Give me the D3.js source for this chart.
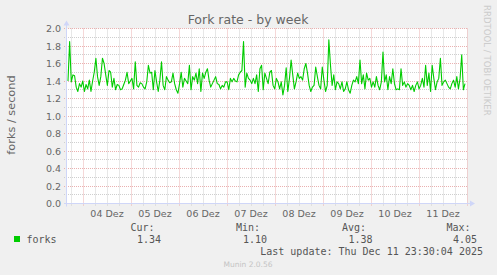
<!DOCTYPE html>
<html><head><meta charset="utf-8">
<script src="https://cdn.jsdelivr.net/npm/d3@7"></script>
<style>
html,body{margin:0;padding:0;background:#f0f0f0;}
svg{display:block;}
</style></head>
<body>
<svg id="chart" width="497" height="275"></svg>
<script>
// ---- data ----
const title = "Fork rate - by week";
const yLabel = "forks / second";
const dayLabels = ["04 Dez","05 Dez","06 Dez","07 Dez","08 Dez","09 Dez","10 Dez","11 Dez"];
const dayNumbers = [4,5,6,7,8,9,10,11];
const yTicks = [0.0,0.2,0.4,0.6,0.8,1.0,1.2,1.4,1.6,1.8,2.0];
const yMinorTicks = [0.1,0.3,0.5,0.7,0.9,1.1,1.3,1.5,1.7,1.9];
const seriesName = "forks";
const statLabels = ["Cur:","Min:","Avg:","Max:"];
const statValues = ["1.34","1.10","1.38","4.05"];
const lastUpdate = "Last update: Thu Dec 11 23:30:04 2025";
const footer = "Munin 2.0.56";
const sideText = "RRDTOOL / TOBI OETIKER";
const forks = [
1.40,1.85,1.39,1.47,1.46,1.33,1.28,1.37,1.33,1.40,1.28,
1.36,1.31,1.41,1.28,1.40,1.50,1.66,1.45,1.35,1.45,1.66,1.60,1.47,1.35,1.52,1.50,1.33,1.43,1.30,
1.36,1.35,1.30,1.31,1.36,1.41,1.50,1.37,1.40,1.43,1.31,1.62,1.35,1.33,1.38,1.37,1.33,1.31,1.39,
1.58,1.49,1.50,1.30,1.52,1.39,1.28,1.41,1.62,1.35,1.30,1.45,1.41,1.38,1.39,1.49,1.37,1.30,1.26,
1.37,1.50,1.33,1.43,1.40,1.37,1.58,1.30,1.45,1.41,1.49,1.37,1.54,1.28,1.49,1.43,1.50,1.54,1.41,
1.33,1.37,1.41,1.45,1.37,1.36,1.31,1.35,1.33,1.39,1.39,1.30,1.43,1.39,1.43,1.40,1.39,1.47,1.50,
1.52,1.85,1.33,1.49,1.43,1.41,1.37,1.43,1.37,1.47,1.28,1.54,1.58,1.30,1.49,1.43,1.37,1.50,1.52,
1.35,1.31,1.43,1.39,1.31,1.39,1.24,
1.35,1.55,1.28,1.43,1.64,1.47,1.31,1.39,1.49,1.43,1.45,1.41,1.54,1.60,1.49,1.35,1.28,1.33,1.35,
1.56,1.45,1.35,1.31,1.56,1.41,1.28,1.35,1.87,1.58,1.35,1.47,1.30,1.39,1.37,1.31,1.39,1.28,1.31,
1.39,1.30,1.26,1.35,1.41,1.39,1.45,1.37,1.64,1.37,1.47,1.31,1.49,1.41,1.43,1.33,1.39,1.33,1.45,
1.35,1.30,1.39,1.73,1.39,1.47,1.30,1.45,1.37,1.54,1.37,1.30,1.31,1.30,1.54,1.35,1.39,1.33,1.37,
1.35,1.30,1.35,1.28,1.35,1.39,1.31,1.35,1.43,1.33,1.58,1.35,1.49,1.28,1.58,1.43,1.30,1.39,1.43,
1.66,1.35,1.39,1.41,1.37,1.33,1.31,1.37,1.41,1.33,1.45,1.31,1.43,1.70,1.30,1.37
];
const viewStart = Date.UTC(2025,11,3,16,0);
const viewEnd = Date.UTC(2025,11,12,0,0);
const dataStart = Date.UTC(2025,11,3,16,30);
const dataEnd = Date.UTC(2025,11,11,23,0);

// ---- layout ----
const L = 67, R = 467, T = 28.5, B = 203.5;
const svg = d3.select("#chart");
const x = d3.scaleUtc().domain([viewStart, viewEnd]).range([L, R]);
const y = d3.scaleLinear().domain([0, 2]).range([B, T]);
const step = (dataEnd - dataStart) / (forks.length - 1);
const pts = forks.map((v,i)=>({t: new Date(dataStart + i*step), v}));

const FONT = "#666666", AXIS = "#CFD6F8";
const minorCol = "#cfcfcf", majorCol = "#eab0b0";

svg.append("rect").attr("width",497).attr("height",275).attr("fill","#f0f0f0");
svg.append("rect").attr("x",L).attr("y",T).attr("width",R-L).attr("height",B-T).attr("fill","#ffffff");

const g = svg.append("g");
// vertical minor grid every 6h, major at midnight
const sixH = d3.utcHour.every(6).range(new Date(viewStart), new Date(viewEnd+1));
sixH.forEach(d=>{
  const major = d.getUTCHours()===0;
  const xx = Math.round(x(d))+0.5;
  g.append("line").attr("x1",xx).attr("x2",xx).attr("y1",T).attr("y2",B+3)
   .attr("stroke", major?majorCol:minorCol).attr("stroke-width",1).attr("stroke-dasharray","1,1");
});
// horizontal grid
yMinorTicks.forEach(v=>{
  const yy = Math.round(y(v)-0.5)+0.5;
  g.append("line").attr("x1",L-3).attr("x2",R).attr("y1",yy).attr("y2",yy)
   .attr("stroke",minorCol).attr("stroke-dasharray","1,1");
});
yTicks.forEach(v=>{
  const yy = Math.round(y(v)-0.5)+0.5;
  g.append("line").attr("x1",L-3).attr("x2",R+1).attr("y1",yy).attr("y2",yy)
   .attr("stroke",majorCol).attr("stroke-dasharray","1,1");
});

// axes with arrows
svg.append("line").attr("x1",L-0.5).attr("x2",L-0.5).attr("y1",B+3).attr("y2",T-6).attr("stroke",AXIS);
svg.append("path").attr("d",`M${L-3.5},${T-3} L${L+2.5},${T-3} L${L-0.5},${T-8} Z`).attr("fill",AXIS);
svg.append("line").attr("x1",L-3).attr("x2",R+4).attr("y1",B).attr("y2",B).attr("stroke",AXIS);
svg.append("path").attr("d",`M${R+3},${B-3} L${R+3},${B+3} L${R+8},${B} Z`).attr("fill",AXIS);

// y tick labels
svg.append("g").selectAll("text").data(yTicks).join("text")
  .attr("x",61).attr("y",d=>y(d)+3.5).attr("text-anchor","end")
  .attr("font-family","DejaVu Sans").attr("font-size","9.5px").attr("fill",FONT)
  .text(d=>d.toFixed(1));

// x tick labels at noon
svg.append("g").selectAll("text").data(dayLabels).join("text")
  .attr("x",(d,i)=>x(new Date(Date.UTC(2025,11,dayNumbers[i],12))))
  .attr("y",216.5).attr("text-anchor","middle")
  .attr("font-family","DejaVu Sans").attr("font-size","9.5px").attr("fill",FONT)
  .text(d=>d);

// series line
const line = d3.line().x(d=>x(d.t)).y(d=>y(d.v));
svg.append("path").datum(pts).attr("d",line).attr("fill","none")
  .attr("stroke","#00cc00").attr("stroke-width",1.1).attr("stroke-linejoin","round");

// titles
svg.append("text").attr("x",248).attr("y",24).attr("text-anchor","middle")
  .attr("font-family","DejaVu Sans").attr("font-size","12.5px").attr("fill",FONT).text(title);
svg.append("text").attr("transform","translate(15,115) rotate(-90)").attr("text-anchor","middle")
  .attr("font-family","DejaVu Sans").attr("font-size","11.3px").attr("fill",FONT).text(yLabel);
svg.append("text").attr("transform","translate(484,5) rotate(90)").attr("text-anchor","start")
  .attr("font-family","DejaVu Sans").attr("font-size","8.6px").attr("fill","#cccccc").text(sideText);

// legend
svg.append("rect").attr("x",14).attr("y",236).attr("width",6).attr("height",6).attr("fill","#00cc00");
const mono = "DejaVu Sans Mono";
svg.append("text").attr("x",26.5).attr("y",243).attr("font-family",mono).attr("font-size","10px").attr("fill","#555").text(seriesName);
const labelEnds = [154.5,260,366,470.5];
const valueEnds = [161,267,372.5,477];
statLabels.forEach((s,i)=>{
  svg.append("text").attr("x",labelEnds[i]).attr("y",231).attr("text-anchor","end")
   .attr("font-family",mono).attr("font-size","10px").attr("fill","#555").text(s);
  svg.append("text").attr("x",valueEnds[i]).attr("y",243).attr("text-anchor","end")
   .attr("font-family",mono).attr("font-size","10px").attr("fill","#555").text(statValues[i]);
});
svg.append("text").attr("x",483).attr("y",255).attr("text-anchor","end")
  .attr("font-family",mono).attr("font-size","10px").attr("fill","#555").text(lastUpdate);
svg.append("text").attr("x",248).attr("y",267).attr("text-anchor","middle")
  .attr("font-family","DejaVu Sans").attr("font-size","7.5px").attr("fill","#c4c4c4").text(footer);
</script>
</body></html>
